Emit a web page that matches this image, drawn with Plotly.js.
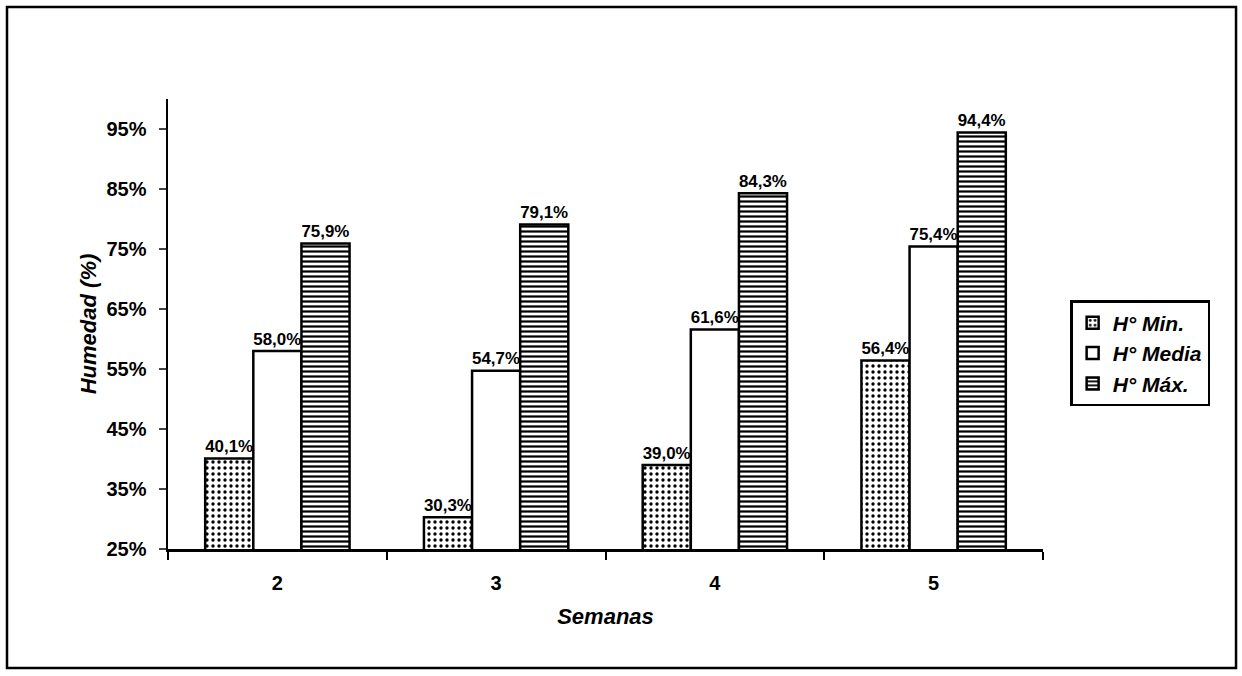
<!DOCTYPE html>
<html><head><meta charset="utf-8">
<script src="https://cdn.plot.ly/plotly-3.0.1.min.js"></script>
<style>html,body{margin:0;padding:0;background:#fff}#chart{width:1242px;height:676px}</style>
</head><body><div id="chart"></div>
<script>
const semanas = ['2','3','4','5'];
const hMin = [40.1, 30.3, 39.0, 56.4];
const hMedia = [58.0, 54.7, 61.6, 75.4];
const hMax = [75.9, 79.1, 84.3, 94.4];
const yTicks = [25,35,45,55,65,75,85,95];
const fmt = v => v.toFixed(1).replace('.', ',') + '%';
const FONT = 'Liberation Sans, Arial, sans-serif';
const lbl = {family: FONT, size: 20, color: '#000', weight: 'bold'};
function tr(name, vals, pattern){
  return {type:'bar', name:name, x:semanas, y:vals, text:vals.map(fmt),
    textposition:'outside', textfont:lbl, cliponaxis:false,
    marker:{color:'#fff', line:{color:'#000', width:2.5}, pattern:pattern}};
}
const data = [
  tr('H° Min.', hMin, {shape:'.', fgcolor:'#000', bgcolor:'#fff', size:6, solidity:0.25}),
  tr('H° Media', hMedia, {shape:'', fgcolor:'#000', bgcolor:'#fff'}),
  tr('H° Máx.', hMax, {shape:'-', fgcolor:'#000', bgcolor:'#fff', size:5, solidity:0.45})
];
const layout = {
  width:1242, height:676, margin:{l:168, r:199, t:99, b:127},
  paper_bgcolor:'#fff', plot_bgcolor:'#fff',
  barmode:'group', bargap:0.34, bargroupgap:0,
  font:{family:FONT, color:'#000'},
  xaxis:{type:'category', showline:true, linecolor:'#000', linewidth:2.5,
    ticks:'outside', tickson:'boundaries', ticklen:8, tickwidth:2, tickcolor:'#000',
    ticklabelstandoff:14,
    tickfont:{family:FONT, size:20, weight:'bold'}, showgrid:false,
    title:{text:'Semanas', font:{family:FONT, size:22, weight:'bold', style:'italic'}, standoff:16}},
  yaxis:{range:[25,100], tickvals:yTicks, ticktext:yTicks.map(v=>v+'%'),
    showline:true, linecolor:'#000', linewidth:2.5, ticks:'outside', ticklen:7, tickwidth:2,
    ticklabelstandoff:8,
    tickfont:{family:FONT, size:20, weight:'bold'}, showgrid:false, zeroline:false,
    title:{text:'Humedad (%)', font:{family:FONT, size:22, weight:'bold', style:'italic'}, standoff:4}},
  legend:{x:1.031, xanchor:'left', y:0.553, yanchor:'top', bordercolor:'#000', borderwidth:2.5,
    font:{family:FONT, size:21, weight:'bold', style:'italic'}, bgcolor:'#fff', itemwidth:30},
  shapes:[{type:'rect', xref:'paper', yref:'paper', x0:-0.184, x1:1.2206, y0:-0.2644, y1:1.2044,
    line:{color:'#000', width:2.5}, fillcolor:'rgba(0,0,0,0)'}],
  showlegend:true
};
Plotly.newPlot('chart', data, layout, {displayModeBar:false, staticPlot:true});
</script></body></html>
